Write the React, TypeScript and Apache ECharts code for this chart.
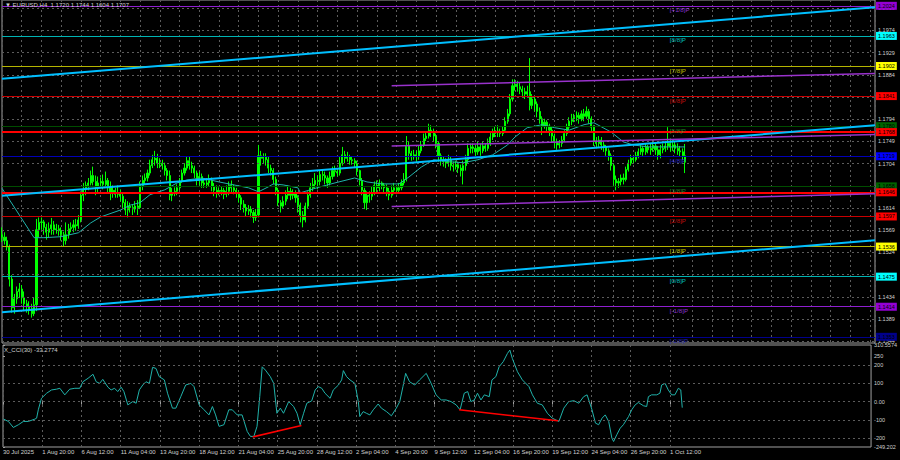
import React, { useEffect, useRef } from 'react';
import * as echarts from 'echarts';

// ---------- data ----------
const TIME_LABELS = ['30 Jul 2025', '1 Aug 20:00', '6 Aug 12:00', '11 Aug 04:00', '13 Aug 20:00', '18 Aug 12:00', '21 Aug 04:00', '25 Aug 20:00', '28 Aug 12:00', '2 Sep 04:00', '4 Sep 20:00', '9 Sep 12:00', '12 Sep 04:00', '16 Sep 20:00', '19 Sep 12:00', '24 Sep 04:00', '26 Sep 20:00', '1 Oct 12:00'];
const BARS_PER_LABEL = 16;
const BARS_PER_GRID = 8;
const X_MAX = 354;

const PRICE_TICKS = [1.1344, 1.1389, 1.1434, 1.1479, 1.1524, 1.1569, 1.1614, 1.1659, 1.1704, 1.1749, 1.1794, 1.1839, 1.1884, 1.1929, 1.1974, 1.2019];
const PRICE_MIN = 1.13405;
const PRICE_MAX = 1.20358;

// H4 candles, prices as 1.xxxx -> xxxx; open of each bar = previous close
const FIRST_OPEN = 1560;
const CLOSE = [
  1555, 1548, 1535, 1470, 1412,
  1430, 1445, 1450, 1432, 1420, 1415,
  1410, 1400, 1418, 1570, 1585, 1586,
  1575, 1565, 1572, 1580, 1570, 1572,
  1568, 1560, 1548, 1560, 1572, 1575,
  1580, 1578, 1590, 1640, 1652, 1660,
  1665, 1680, 1668, 1655, 1665, 1668,
  1662, 1670, 1655, 1645, 1650, 1642,
  1645, 1638, 1625, 1610, 1618, 1615,
  1612, 1618, 1615, 1660, 1670, 1675,
  1685, 1700, 1712, 1715, 1705, 1705,
  1700, 1690, 1680, 1640, 1645, 1648,
  1655, 1668, 1685, 1695, 1710, 1700,
  1695, 1685, 1670, 1678, 1665, 1662,
  1665, 1670, 1658, 1650, 1645, 1648,
  1650, 1642, 1648, 1660, 1655, 1650,
  1645, 1635, 1622, 1615, 1608, 1612,
  1605, 1595, 1600, 1720, 1715, 1718,
  1712, 1695, 1690, 1672, 1650, 1625,
  1618, 1628, 1640, 1648, 1640, 1645,
  1635, 1620, 1600, 1590, 1618, 1640,
  1655, 1662, 1670, 1668, 1682, 1680,
  1675, 1665, 1678, 1690, 1688, 1685,
  1705, 1722, 1715, 1718, 1712, 1710,
  1705, 1690, 1670, 1650, 1625, 1640,
  1638, 1645, 1660, 1655, 1665, 1660,
  1655, 1648, 1640, 1650, 1655, 1650,
  1655, 1665, 1672, 1740, 1725, 1718,
  1722, 1718, 1730, 1742, 1755, 1760,
  1772, 1768, 1760, 1745, 1720, 1712,
  1708, 1705, 1712, 1700, 1698, 1702,
  1695, 1690, 1700, 1712, 1735, 1738,
  1735, 1728, 1738, 1730, 1740, 1735,
  1745, 1758, 1765, 1770, 1768, 1765,
  1772, 1790, 1805, 1835, 1862, 1865,
  1860, 1855, 1850, 1845, 1850, 1822,
  1835, 1825, 1810, 1795, 1780, 1788,
  1780, 1772, 1760, 1748, 1742, 1745,
  1752, 1765, 1778, 1790, 1795, 1798,
  1802, 1795, 1805, 1800, 1810, 1795,
  1778, 1750, 1745, 1752, 1742, 1738,
  1730, 1720, 1700, 1672, 1665, 1668,
  1675, 1672, 1692, 1705, 1715, 1712,
  1720, 1728, 1735, 1728, 1738, 1732,
  1735, 1740, 1732, 1722, 1732, 1735,
  1740, 1745, 1738, 1742, 1735, 1730,
  1728, 1720, 1707,
];
const LOW = [
  1545, 1540, 1528, 1455, 1402,
  1400, 1420, 1432, 1420, 1405, 1402,
  1398, 1392, 1395, 1405, 1555, 1570,
  1560, 1550, 1555, 1560, 1560, 1562,
  1558, 1548, 1536, 1540, 1552, 1565,
  1565, 1568, 1572, 1585, 1628, 1640,
  1650, 1660, 1660, 1640, 1645, 1655,
  1652, 1655, 1645, 1630, 1635, 1635,
  1635, 1628, 1612, 1600, 1595, 1605,
  1600, 1605, 1600, 1612, 1650, 1662,
  1668, 1680, 1695, 1700, 1695, 1695,
  1692, 1680, 1670, 1630, 1628, 1638,
  1640, 1650, 1665, 1680, 1690, 1692,
  1685, 1675, 1660, 1660, 1655, 1655,
  1655, 1658, 1648, 1638, 1635, 1640,
  1640, 1632, 1636, 1640, 1645, 1642,
  1635, 1625, 1610, 1605, 1598, 1600,
  1595, 1584, 1588, 1595, 1700, 1705,
  1700, 1685, 1680, 1662, 1640, 1618,
  1605, 1612, 1620, 1632, 1630, 1632,
  1625, 1605, 1585, 1575, 1585, 1612,
  1635, 1648, 1655, 1652, 1660, 1670,
  1662, 1655, 1660, 1672, 1678, 1678,
  1680, 1700, 1705, 1708, 1702, 1702,
  1695, 1680, 1660, 1640, 1612, 1610,
  1625, 1630, 1640, 1645, 1648, 1652,
  1645, 1638, 1630, 1635, 1642, 1642,
  1645, 1650, 1660, 1668, 1712, 1710,
  1712, 1708, 1712, 1725, 1738, 1750,
  1755, 1758, 1750, 1735, 1708, 1700,
  1698, 1695, 1698, 1690, 1688, 1692,
  1685, 1678, 1662, 1690, 1705, 1725,
  1725, 1718, 1722, 1720, 1725, 1728,
  1730, 1740, 1752, 1758, 1758, 1758,
  1760, 1768, 1785, 1800, 1830, 1852,
  1850, 1845, 1838, 1835, 1838, 1812,
  1815, 1810, 1798, 1785, 1762, 1775,
  1770, 1760, 1748, 1735, 1732, 1735,
  1738, 1748, 1760, 1772, 1782, 1788,
  1790, 1785, 1790, 1790, 1795, 1785,
  1770, 1740, 1735, 1738, 1732, 1728,
  1720, 1710, 1690, 1660, 1650, 1655,
  1660, 1662, 1668, 1688, 1700, 1705,
  1708, 1715, 1722, 1720, 1722, 1725,
  1722, 1728, 1722, 1712, 1715, 1725,
  1728, 1732, 1728, 1730, 1725, 1722,
  1718, 1712, 1685,
];
const HIGH = [
  1575, 1565, 1556, 1540, 1478,
  1440, 1455, 1462, 1458, 1445, 1428,
  1425, 1420, 1432, 1592, 1595, 1595,
  1590, 1582, 1585, 1594, 1588, 1582,
  1580, 1575, 1566, 1585, 1582, 1585,
  1590, 1592, 1600, 1648, 1665, 1668,
  1675, 1690, 1698, 1680, 1678, 1676,
  1682, 1688, 1675, 1668, 1660, 1655,
  1660, 1652, 1645, 1632, 1628, 1625,
  1622, 1628, 1630, 1668, 1680, 1684,
  1692, 1712, 1722, 1730, 1724, 1715,
  1712, 1706, 1695, 1690, 1655, 1656,
  1662, 1675, 1692, 1705, 1718, 1718,
  1708, 1700, 1690, 1688, 1684, 1672,
  1675, 1682, 1676, 1665, 1660, 1656,
  1658, 1655, 1660, 1668, 1670, 1662,
  1655, 1650, 1640, 1630, 1622, 1620,
  1618, 1610, 1612, 1742, 1730, 1725,
  1725, 1718, 1702, 1695, 1678, 1655,
  1630, 1638, 1650, 1660, 1655, 1652,
  1650, 1640, 1625, 1608, 1625, 1648,
  1665, 1675, 1685, 1680, 1690, 1690,
  1688, 1680, 1688, 1698, 1700, 1695,
  1718, 1738, 1730, 1728, 1722, 1718,
  1715, 1710, 1692, 1675, 1655, 1648,
  1648, 1658, 1668, 1670, 1672, 1668,
  1665, 1662, 1655, 1660, 1665, 1660,
  1665, 1672, 1685, 1760, 1748, 1730,
  1732, 1730, 1740, 1750, 1765, 1770,
  1785, 1782, 1775, 1765, 1750, 1725,
  1718, 1715, 1722, 1718, 1708, 1710,
  1708, 1702, 1710, 1722, 1745, 1745,
  1745, 1742, 1748, 1745, 1748, 1745,
  1755, 1768, 1775, 1780, 1782, 1775,
  1780, 1798, 1815, 1845, 1875, 1875,
  1872, 1868, 1862, 1858, 1862, 1918,
  1845, 1840, 1830, 1818, 1800, 1795,
  1792, 1785, 1778, 1765, 1755, 1752,
  1760, 1772, 1785, 1798, 1805, 1805,
  1810, 1808, 1812, 1815, 1820, 1815,
  1800, 1782, 1758, 1760, 1758, 1748,
  1742, 1735, 1725, 1705, 1680, 1675,
  1682, 1684, 1698, 1712, 1722, 1720,
  1728, 1735, 1742, 1740, 1745, 1742,
  1745, 1752, 1748, 1740, 1742, 1745,
  1750, 1778, 1755, 1752, 1750, 1745,
  1740, 1735, 1744,
];

// moving average: [bar index, price]
const MA_POINTS = [
  [0, 1.1654], [13, 1.1554], [17, 1.1554], [24, 1.1556], [31, 1.1564], [36, 1.1584], [40, 1.1596],
  [48, 1.1610], [52, 1.1620], [56, 1.1625], [60, 1.1641], [66, 1.1651], [71, 1.1665], [75, 1.1671],
  [81, 1.1675], [88, 1.1667], [94, 1.1661], [100, 1.1655], [104, 1.1647], [108, 1.1657], [110, 1.1663],
  [114, 1.1661], [120, 1.1655], [121, 1.1645], [129, 1.1657], [135, 1.1665], [143, 1.1675], [148, 1.1667],
  [154, 1.1663], [161, 1.1663], [165, 1.1677], [170, 1.1697], [175, 1.1712], [181, 1.1708], [187, 1.1706],
  [193, 1.1712], [199, 1.1722], [205, 1.1742], [208, 1.1758], [213, 1.1777], [219, 1.1783], [224, 1.1777],
  [230, 1.1772], [236, 1.1783], [240, 1.1787], [247, 1.1768], [252, 1.1748], [256, 1.1742], [262, 1.1738],
  [270, 1.1738], [277, 1.1738],
];

// CCI(30): [bar index, value]
const CCI_POINTS = [
  [0.2, -96], [2.2, -109], [4.2, -142], [6.3, -127], [8.3, -109], [10.3, -109], [13, -96], [13.7, -91],
  [14.4, -45], [15.7, 18], [17.8, 46], [19.8, 64], [21.8, 68], [23.2, 73], [25.2, 37], [27.2, 68],
  [29.3, 73], [31.3, 73], [32.6, 109], [34.7, 128], [36.7, 150], [38, 109], [39.4, 100], [40.7, 122],
  [42.8, 79], [44.1, 64], [45.5, 73], [46.8, 55], [48.2, 79], [49.3, 55], [50.9, -18], [52.9, 0],
  [54.3, -9], [55.6, 64], [57, 91], [58.3, 109], [59.7, 100], [61, 188], [62.4, 182], [63.7, 137],
  [65.8, 119], [67.1, 46], [69.1, -36], [70.5, -36], [72.5, 27], [74.5, 91], [76.6, 100], [77.9, 82],
  [80, -18], [82, -45], [84, -73], [85.4, -27], [86.7, -73], [88.1, -136], [90.1, -127], [92.1, -45],
  [93.5, -45], [95.5, -73], [97.5, -73], [99.6, -164], [100.9, -191], [102.3, -191], [103.6, -136],
  [104.7, 27], [105.7, 191], [107, 173], [109, 137], [110.4, 100], [111.7, -64], [113.1, -36],
  [114.4, -64], [116.5, 0], [118.5, -27], [119.9, -64], [121.2, -127], [122.6, -64], [123.9, -9],
  [125.9, 4], [127.3, 64], [128.6, 82], [130, 73], [131.3, 46], [133.4, 18], [134.7, 64], [136.8, 91],
  [138.1, 119], [138.8, 170], [140.1, 137], [141.5, 119], [143.5, 100], [144.9, 0], [145.5, -82],
  [146.9, -55], [148.2, -64], [149.6, -73], [151, -45], [153, -13], [154.3, -36], [156.4, -55],
  [158.4, -78], [160.4, -36], [161.8, 0], [163.1, 82], [164.2, 155], [165.8, 109], [167.9, 91],
  [169.9, 119], [172.6, 155], [174.6, 100], [176.6, 37], [178.7, 9], [180.7, 9], [182.7, 0],
  [184.8, -18], [186.4, -45], [188.1, 46], [189.5, 55], [190.8, 0], [192.2, 9], [193.5, 46],
  [194.9, 9], [196.3, 37], [198.3, 27], [199.4, 119], [201, 137], [202.3, 191], [204, 219],
  [205.7, 264], [206.7, 283], [207.7, 237], [209.8, 164], [211.8, 119], [214.5, 82], [215.9, 37],
  [217.9, -9], [219.9, -18], [222, -64], [224, -91], [226.7, -109], [228.7, -36], [230.7, 0],
  [232.8, 5], [234.8, -9], [236.8, 27], [238.2, 37], [240.2, -45], [241.6, -118], [242.9, -127],
  [244.3, -91], [245.6, -73], [247, -109], [248.3, -200], [249, -219], [250.3, -182], [251.7, -146],
  [253, -127], [255.1, -82], [256.4, -45], [257.8, -18], [259.1, -5], [261.2, -23], [262.5, -27],
  [263.2, 27], [264.5, 37], [266.6, 37], [267.9, 46], [268.6, 91], [270, 100], [271.3, 64],
  [272.7, 37], [274, 37], [275.4, 73], [276.4, 64], [277, -33.28],
];
const CCI_DIVERGENCE = [
  [[101.8, -194], [121.7, -131]],
  [[186, -45], [226.3, -105]],
];
const CCI_GRID = [200, 100, 0, -100, -200];
const CCI_LABELS = [310.5574, 250, 200, 100, 0, -100, -200, -249.202];
const CCI_MIN = -249.202;
const CCI_MAX = 310.5574;

// Murray math levels
const MURRAY_NAMES = ['[+1/8]P', '[8/8]P', '[7/8]P', '[6/8]P', '[5/8]P', '[4/8]P', '[3/8]P', '[2/8]P', '[1/8]P', '[0/8]P', '[-1/8]P', '[-2/8]P'];
const MURRAY_VALUES = [1.2024, 1.1963, 1.1902, 1.1841, 1.1780, 1.1719, 1.1658, 1.1597, 1.1536, 1.1475, 1.1414, 1.1353];
const MURRAY_LABEL_BAR = 271;

// user horizontal lines and current price
const RED_LEVELS = [1.1768, 1.1646];
const LAST_PRICE = 1.1707;

// trend channels: [[bar, price], [bar, price]]
const BLUE_CHANNEL = [
  [[0, 1.1876], [354, 1.2021]],
  [[0, 1.1639], [354, 1.1782]],
  [[0, 1.1403], [354, 1.1549]],
];
const PURPLE_CHANNEL = [
  [[158, 1.1862], [354, 1.1887]],
  [[158, 1.1740], [354, 1.1763]],
  [[158, 1.1617], [354, 1.1643]],
];

const TITLE = '\u25BC EURUSD,H4  1.1720 1.1744 1.1604 1.1707';
const CCI_TITLE = 'X_CCI(30) -33.2774';

// ---------- styles ----------
const FONT = '"Liberation Sans", Arial, sans-serif';
const AXIS_TEXT = '#d0d0d0';
const GRID_LINE = { color: '#5c5c5c', type: [2, 3] as number[], width: 1 };
const MURRAY_LINE_COLORS = ['#8e1fd0', '#00b4b4', '#b4b400', '#c80000', '#004d00', '#0000b8', '#004d00', '#c80000', '#b4b400', '#00b4b4', '#8e1fd0', '#00008c'];
const MURRAY_BOX_COLORS = ['#9400d3', '#00ffff', '#ffff00', '#ff0000', '#006400', '#0000ff', '#006400', '#ff0000', '#ffff00', '#00ffff', '#9400d3', '#00008b'];
const MURRAY_TEXT_COLORS = ['#b040ff', '#00e6e6', '#e6e600', '#ee1010', '#30a030', '#3a3aff', '#30a030', '#ee1010', '#e6e600', '#00e6e6', '#b040ff', '#3030d0'];

function buildOption() {
  const candles = CLOSE.map((c, i) => {
    const o = i === 0 ? FIRST_OPEN : CLOSE[i - 1];
    return [i, 1 + o / 10000, 1 + c / 10000, 1 + LOW[i] / 10000, 1 + HIGH[i] / 10000];
  });
  const labelIdx = TIME_LABELS.map((_, k) => k * BARS_PER_LABEL);

  const boxLabel = (text: string, bg: string, fg = '#000') => ({
    show: true,
    position: 'end',
    distance: 1,
    formatter: text,
    backgroundColor: bg,
    color: fg,
    fontSize: 5.5,
    fontFamily: FONT,
    padding: [1, 2, 1, 2],
    lineHeight: 6,
  });

  const series: any[] = [];
  const PREC = 6;

  // price grid lines
  series.push({
    type: 'line', xAxisIndex: 0, yAxisIndex: 0, data: [], z: 1, silent: true,
    markLine: { silent: true, precision: PREC, symbol: ['none', 'none'], label: { show: false }, lineStyle: GRID_LINE,
      data: PRICE_TICKS.map((v) => ({ yAxis: v })) },
  });
  // CCI grid lines
  series.push({
    type: 'line', xAxisIndex: 1, yAxisIndex: 1, data: [], z: 1, silent: true,
    markLine: { silent: true, precision: PREC, symbol: ['none', 'none'], label: { show: false }, lineStyle: GRID_LINE,
      data: CCI_GRID.map((v) => ({ yAxis: v })) },
  });

  // candles
  series.push({
    type: 'candlestick', xAxisIndex: 0, yAxisIndex: 0, z: 3,
    data: candles,
    encode: { x: 0, y: [1, 2, 3, 4] },
    barWidth: 1.6,
    itemStyle: { color: '#00ff00', color0: '#00ff00', borderColor: '#00ff00', borderColor0: '#00ff00', borderWidth: 1 },
  });

  // moving average
  series.push({
    type: 'line', xAxisIndex: 0, yAxisIndex: 0, z: 4, data: MA_POINTS, symbol: 'none',
    lineStyle: { color: '#20b2aa', width: 1 },
  });

  // Murray levels
  series.push({
    type: 'line', xAxisIndex: 0, yAxisIndex: 0, data: [], z: 5,
    markLine: {
      silent: true, precision: PREC, symbol: ['none', 'none'],
      data: MURRAY_VALUES.map((v, i) => ({
        yAxis: v,
        lineStyle: { color: MURRAY_LINE_COLORS[i], width: 1, type: 'solid' },
        label: boxLabel(v.toFixed(4), MURRAY_BOX_COLORS[i]),
      })),
    },
  });

  // user red lines
  series.push({
    type: 'line', xAxisIndex: 0, yAxisIndex: 0, data: [], z: 6,
    markLine: {
      silent: true, precision: PREC, symbol: ['none', 'none'],
      data: RED_LEVELS.map((v) => ({
        yAxis: v,
        lineStyle: { color: '#ff0000', width: 2, type: 'solid' },
        label: boxLabel(v.toFixed(4), '#ff0000'),
      })),
    },
  });

  // current price label
  series.push({
    type: 'line', xAxisIndex: 0, yAxisIndex: 0, data: [], z: 7,
    markLine: {
      silent: true, precision: PREC, symbol: ['none', 'none'],
      data: [{ yAxis: LAST_PRICE, lineStyle: { opacity: 0, width: 0 }, label: boxLabel(LAST_PRICE.toFixed(4), '#ffffff') }],
    },
  });

  BLUE_CHANNEL.forEach((d) => series.push({
    type: 'line', xAxisIndex: 0, yAxisIndex: 0, z: 6, data: d, symbol: 'none',
    lineStyle: { color: '#00bfff', width: 2 },
  }));
  PURPLE_CHANNEL.forEach((d) => series.push({
    type: 'line', xAxisIndex: 0, yAxisIndex: 0, z: 6, data: d, symbol: 'none',
    lineStyle: { color: '#9932cc', width: 1.5 },
  }));

  // Murray names
  series.push({
    type: 'scatter', xAxisIndex: 0, yAxisIndex: 0, z: 8, symbol: 'rect', symbolSize: 1,
    itemStyle: { color: 'transparent' },
    data: MURRAY_VALUES.map((v, i) => ({
      value: [MURRAY_LABEL_BAR, v],
      label: { show: true, position: [0, 1.5], formatter: MURRAY_NAMES[i], color: MURRAY_TEXT_COLORS[i], fontSize: 6.2, fontFamily: FONT },
    })),
  });

  // CCI
  series.push({
    type: 'line', xAxisIndex: 1, yAxisIndex: 1, z: 4, data: CCI_POINTS, symbol: 'none',
    lineStyle: { color: '#20b2aa', width: 1 },
  });
  CCI_DIVERGENCE.forEach((d) => series.push({
    type: 'line', xAxisIndex: 1, yAxisIndex: 1, z: 5, data: d, symbol: 'none',
    lineStyle: { color: '#ff0000', width: 1.5 },
  }));

  const xBase = {
    type: 'value', min: 0, max: X_MAX, interval: BARS_PER_GRID,
    axisLine: { show: false },
    splitLine: { show: true, lineStyle: GRID_LINE },
  };

  return {
    animation: false,
    backgroundColor: '#000000',
    textStyle: { fontFamily: FONT },
    grid: [
      { left: 2, top: 0, width: 873, height: 343, show: true, borderColor: '#a0a0a0', borderWidth: 1, backgroundColor: 'transparent' },
      { left: 2, top: 345, width: 873, height: 102, show: true, borderColor: '#a0a0a0', borderWidth: 1, backgroundColor: 'transparent' },
    ],
    xAxis: [
      { ...xBase, gridIndex: 0, axisTick: { show: false }, axisLabel: { show: false } },
      {
        ...xBase, gridIndex: 1,
        axisTick: { show: true, customValues: labelIdx, length: 3, inside: false, lineStyle: { color: '#a0a0a0' } },
        axisLabel: {
          show: true, customValues: labelIdx, align: 'left', margin: 2, fontSize: 6, color: AXIS_TEXT, fontFamily: FONT,
          formatter: (v: number) => TIME_LABELS[Math.round(v / BARS_PER_LABEL)] ?? '',
        },
      },
    ],
    yAxis: [
      {
        type: 'value', gridIndex: 0, position: 'right', min: PRICE_MIN, max: PRICE_MAX,
        axisLine: { show: false }, splitLine: { show: false },
        axisTick: { show: true, customValues: PRICE_TICKS, length: 2, lineStyle: { color: '#a0a0a0' } },
        axisLabel: { customValues: PRICE_TICKS, formatter: (v: number) => v.toFixed(4), fontSize: 5.5, color: AXIS_TEXT, margin: 3, fontFamily: FONT },
      },
      {
        type: 'value', gridIndex: 1, position: 'right', min: CCI_MIN, max: CCI_MAX,
        axisLine: { show: false }, splitLine: { show: false },
        axisTick: { show: true, customValues: CCI_LABELS, length: 2, lineStyle: { color: '#a0a0a0' } },
        axisLabel: {
          customValues: CCI_LABELS, fontSize: 5.5, color: AXIS_TEXT, margin: 3, fontFamily: FONT,
          formatter: (v: number) => (v === 0 ? '0.00' : String(v)),
        },
      },
    ],
    graphic: [
      { type: 'text', left: 5, top: 2, z: 100, style: { text: TITLE, fill: AXIS_TEXT, fontSize: 6, fontFamily: FONT } },
      { type: 'text', left: 4, top: 347, z: 100, style: { text: CCI_TITLE, fill: AXIS_TEXT, fontSize: 6, fontFamily: FONT } },
    ],
    series,
  };
}

export default function App() {
  const ref = useRef<HTMLDivElement>(null);
  useEffect(() => {
    document.body.style.margin = '0';
    document.body.style.background = '#000';
    const chart = echarts.init(ref.current as HTMLDivElement, null, { renderer: 'svg' });
    chart.setOption(buildOption() as any);
    return () => chart.dispose();
  }, []);
  return <div ref={ref} style={{ width: 900, height: 460, background: '#000' }} />;
}
